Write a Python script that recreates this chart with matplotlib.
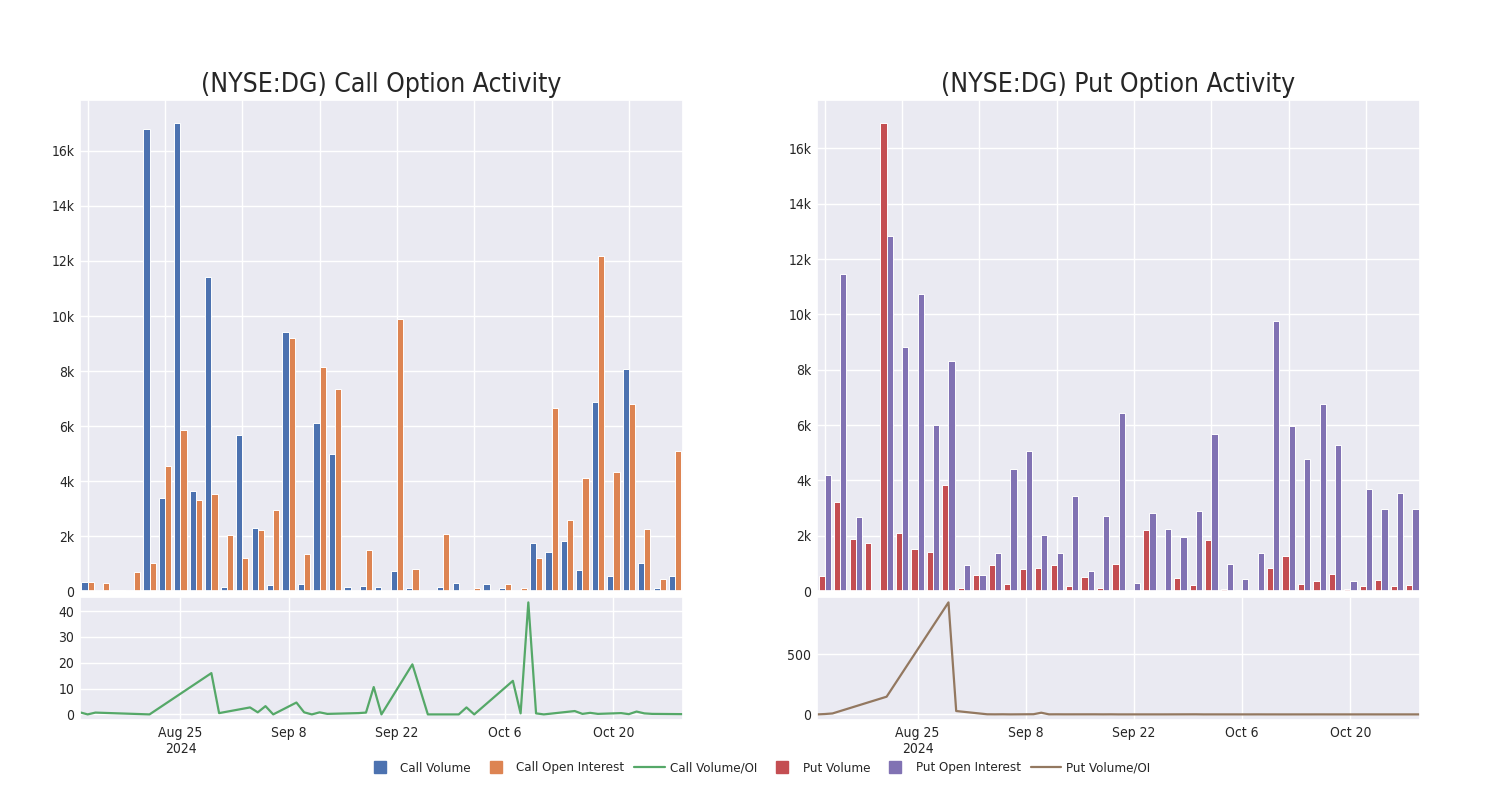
import matplotlib
matplotlib.use('Agg')
import matplotlib.pyplot as plt
import matplotlib.dates as mdates
from matplotlib.lines import Line2D
from matplotlib.ticker import FuncFormatter, MultipleLocator
import numpy as np
import pandas as pd
import seaborn as sns

# trading days that have option data
dates = ['2024-08-12', '2024-08-13', '2024-08-14', '2024-08-21', '2024-08-29', '2024-08-30',
         '2024-09-03', '2024-09-04', '2024-09-05', '2024-09-06', '2024-09-09', '2024-09-10',
         '2024-09-11', '2024-09-12', '2024-09-13', '2024-09-17', '2024-09-18', '2024-09-19',
         '2024-09-20', '2024-09-24', '2024-09-26', '2024-09-30', '2024-10-01', '2024-10-02',
         '2024-10-07', '2024-10-08', '2024-10-09', '2024-10-10', '2024-10-11', '2024-10-15',
         '2024-10-16', '2024-10-17', '2024-10-18', '2024-10-21', '2024-10-22', '2024-10-23',
         '2024-10-24', '2024-10-25', '2024-10-29']

call_volume = [340, 10, 50, 10, 16780, 3395, 17000, 3650, 11400, 160, 5680, 2310, 220, 9410, 255,
               6110, 5000, 145, 205, 170, 730, 120, 12, 160, 300, 50, 255, 120, 5, 1765, 1435,
               1840, 755, 6875, 550, 8080, 1010, 120, 535]
call_oi = [340, 280, 50, 680, 1020, 4560, 5840, 3310, 3550, 2030, 1190, 2215, 2955, 9210, 1350,
           8150, 7350, 14, 1510, 9, 9880, 790, 4, 2090, 23, 110, 6, 270, 120, 1190, 6670,
           2590, 4110, 12170, 4345, 6800, 2275, 440, 5110]
call_ratio = [0.8, 0.0, 0.7, 0.0, 16.0, 0.5, 2.7, 0.8, 3.2, 0.0, 4.6, 0.8, 0.0, 0.8, 0.2,
              0.5, 0.7, 10.6, 0.0, 19.4, 0.0, 0.0, 2.7, 0.0, 13.0, 0.4, 43.4, 0.4, 0.0, 1.3,
              0.2, 0.6, 0.2, 0.5, 0.1, 1.1, 0.4, 0.2, 0.1]

put_volume = [545, 3225, 1897, 1750, 16900, 2115, 1510, 1400, 3840, 100, 580, 930, 250, 810, 830,
              930, 180, 510, 110, 980, 60, 2200, 25, 460, 230, 1850, 85, 60, 5, 830, 1280,
              265, 385, 630, 85, 195, 410, 195, 230]
put_oi = [4215, 11475, 2680, 60, 12830, 8820, 10740, 6000, 8310, 940, 570, 1390, 4400, 5050, 2030,
          1380, 3455, 725, 2720, 6450, 310, 2840, 2250, 1970, 2900, 5670, 1000, 435, 1390, 9775,
          5980, 4770, 6750, 5290, 375, 3710, 2960, 3550, 2985]
put_ratio = [0, 3, 8, 147, 930, 28, 1, 0.5, 1, 0.2, 1.5, 14, 0.5, 0.8, 0.5,
             0.7, 0.3, 0.7, 0.1, 0.2, 0.2, 0.8, 0.1, 0.2, 0.1, 0.3, 0.1, 0.1, 0.0, 0.1,
             0.2, 0.1, 0.1, 0.1, 0.2, 0.1, 0.1, 0.1, 0.1]

ticker = 'NYSE:DG'

sns.set_theme(style='darkgrid')
plt.rcParams['font.family'] = ['DejaVu Sans']
plt.rcParams['font.stretch'] = 'condensed'

deep = sns.color_palette('deep')
c_call_vol, c_call_oi, c_call_ratio = deep[0], deep[1], deep[2]
c_put_vol, c_put_oi, c_put_ratio = deep[3], deep[4], deep[5]

x_dates = pd.to_datetime(dates)
idx = np.arange(len(dates))

fig = plt.figure(figsize=(15, 8), dpi=100)


def k_fmt(v, pos):
    if v == 0:
        return '0'
    return f'{int(round(v / 1000))}k'


def date_fmt(v, pos):
    d = mdates.num2date(v)
    s = f'{d.strftime("%b")} {d.day}'
    if pos == 0:
        s += f'\n{d.year}'
    return s


def draw_panel(left, title, vol, oi, ratio, cols):
    ax_bar = fig.add_axes([left, 0.261, 0.402, 0.614])
    ax_line = fig.add_axes([left, 0.1, 0.402, 0.154])
    w = 0.4
    ax_bar.bar(idx - w / 2, vol, width=w, color=cols[0], edgecolor='white', linewidth=0.7)
    ax_bar.bar(idx + w / 2, oi, width=w, color=cols[1], edgecolor='white', linewidth=0.7)
    ax_bar.set_xlim(-0.5, len(idx) - 0.5)
    ax_bar.set_xticks(idx[::5])
    ax_bar.set_xticklabels([])
    ax_bar.yaxis.set_major_formatter(FuncFormatter(k_fmt))
    ax_bar.tick_params(labelsize=10, length=0, pad=4)
    ax_bar.set_title(title, fontsize=19)

    ax_line.plot(x_dates, ratio, color=cols[2], linewidth=1.6)
    ax_line.set_xlim(x_dates[0], x_dates[-1])
    ax_line.set_xticks(pd.date_range('2024-08-25', periods=5, freq='14D'))
    ax_line.xaxis.set_major_formatter(FuncFormatter(date_fmt))
    ax_line.tick_params(labelsize=10, length=0, pad=4)
    return ax_bar, ax_line


ax_cb, ax_cl = draw_panel(0.0533, f'({ticker}) Call Option Activity', call_volume, call_oi, call_ratio,
                          [c_call_vol, c_call_oi, c_call_ratio])
ax_pb, ax_pl = draw_panel(0.5447, f'({ticker}) Put Option Activity', put_volume, put_oi, put_ratio,
                          [c_put_vol, c_put_oi, c_put_ratio])
ax_cl.yaxis.set_major_locator(MultipleLocator(10))
ax_pl.yaxis.set_major_locator(MultipleLocator(500))

handles = [
    Line2D([], [], marker='s', linestyle='', color=c_call_vol, markersize=9),
    Line2D([], [], marker='s', linestyle='', color=c_call_oi, markersize=9),
    Line2D([], [], color=c_call_ratio, linewidth=1.6),
    Line2D([], [], marker='s', linestyle='', color=c_put_vol, markersize=9),
    Line2D([], [], marker='s', linestyle='', color=c_put_oi, markersize=9),
    Line2D([], [], color=c_put_ratio, linewidth=1.6),
]
labels = ['Call Volume', 'Call Open Interest', 'Call Volume/OI',
          'Put Volume', 'Put Open Interest', 'Put Volume/OI']
fig.legend(handles, labels, loc='center', bbox_to_anchor=(0.505, 0.04), ncol=6,
           frameon=False, fontsize=9.5, handlelength=2.3, handletextpad=0.4,
           columnspacing=0.75)

fig.savefig('out.png', dpi=100)
